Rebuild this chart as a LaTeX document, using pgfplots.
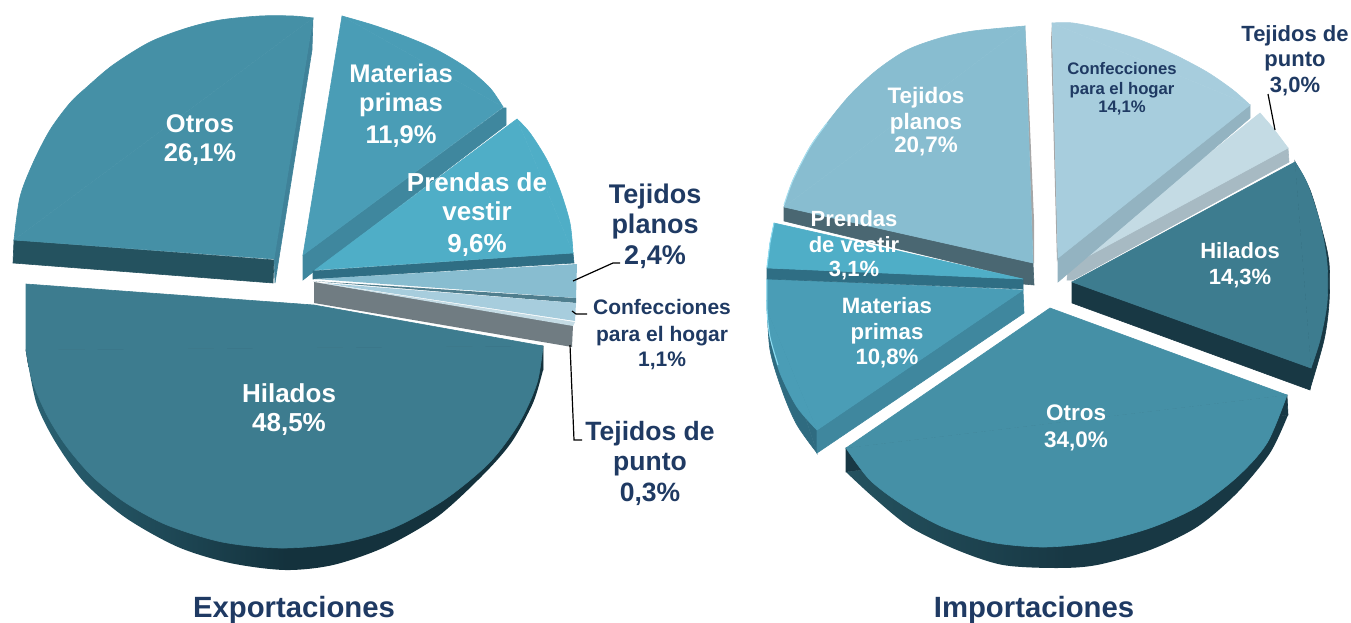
\documentclass[border=0pt]{standalone}
\usepackage{fontspec}
\setmainfont{Liberation Sans}
\usepackage{pgfplots}
\pgfplotsset{compat=1.18}

\definecolor{otros}{HTML}{4590A6}
\definecolor{otrosside}{HTML}{24525F}
\definecolor{otrosedge}{HTML}{3F8299}
\definecolor{otrosdark}{HTML}{183844}
\definecolor{hilados}{HTML}{3D7C8F}
\definecolor{hiladosside}{HTML}{14323D}
\definecolor{hiladosleft}{HTML}{2A6273}
\definecolor{materias}{HTML}{4A9DB6}
\definecolor{materiasside}{HTML}{3F879E}
\definecolor{materiasdark}{HTML}{2F6B80}
\definecolor{prendas}{HTML}{4FAEC7}
\definecolor{prendasside}{HTML}{2F6E84}
\definecolor{planos}{HTML}{88BDD0}
\definecolor{planosside}{HTML}{4A6772}
\definecolor{planosline}{HTML}{4F7E8E}
\definecolor{confec}{HTML}{A7CDDD}
\definecolor{confecside}{HTML}{93B3C1}
\definecolor{punto}{HTML}{C4DBE4}
\definecolor{puntoside}{HTML}{A7BAC3}
\definecolor{gris}{HTML}{707C82}
\definecolor{navy}{HTML}{1F3A63}
\definecolor{rim}{HTML}{8FDDF2}
\definecolor{rimpale}{HTML}{A8E0F0}

\tikzset{sec/.style={fill=#1,draw=#1,line width=0.6pt}}
\newcommand{\lab}[5]{\node[anchor=base,inner sep=0pt,text=#4,font=\fontsize{#3}{#3}\selectfont\bfseries] at (axis cs:#1,#2) {#5};}

\begin{document}
\begin{tikzpicture}
\path[use as bounding box] (0,0) rectangle (1351pt,623pt);
\begin{axis}[
    hide axis, scale only axis,
    width=1351pt, height=623pt,
    xmin=0, xmax=1351, ymin=0, ymax=623,
    y dir=reverse, clip=false,
    every axis plot/.append style={draw=none},
  ]
% ---- Exportaciones
% Otros
\addplot[sec=otrosside] coordinates {(14,240) (274,260) (273,283) (13,263)} --cycle;
\addplot[sec=otrosedge] coordinates {(313,18) (312,50) (275,283) (274,258)} --cycle;
\addplot[sec=otros] coordinates {(14,240) (313,18) (274,259)} --cycle;
\addplot[sec=otros,smooth] coordinates {(14,240) (20,197) (33,163) (50,130) (70,103) (87,87) (113,65) (150,42) (187,28) (220,20) (260,16) (293,16) (313,18)};
% Hilados
\addplot[sec=hiladosside] coordinates {(543,346) (543,370) (28,363) (26,350)} --cycle;
\addplot[left color=hiladosleft,right color=hiladosside,middle color=hiladosside,smooth] coordinates {(543,370) (533,403) (511,443) (481,477) (437,517) (385,547) (333,565) (285,570) (230,563) (178,547) (126,518) (85,483) (56,443) (37,405) (28,363)};
\addplot[sec=hilados] coordinates {(26,284) (26,350) (543,346) (314,305)} --cycle;
\addplot[sec=hilados,smooth] coordinates {(26,350) (33,383) (48,417) (67,447) (93,477) (126,503) (167,525) (222,542) (281,548) (341,543) (393,528) (444,500) (489,463) (519,423) (537,383) (543,346)};
% Materias primas
\addplot[sec=materiasside] coordinates {(503,108) (506,108) (506,125) (313,272) (303,280) (303,255)} --cycle;
\addplot[sec=materias] coordinates {(342,16) (503,107) (303,255)} --cycle;
\addplot[sec=materias,smooth] coordinates {(342,16) (373,25) (407,37) (437,50) (467,68) (490,88) (503,107)};
% Prendas de vestir
\addplot[sec=prendasside] coordinates {(573,253) (574,263) (313,279) (313,271)} --cycle;
\addplot[sec=prendas] coordinates {(315,270) (517,119) (573,253)} --cycle;
\addplot[sec=prendas,smooth] coordinates {(517,119) (530,133) (547,160) (560,190) (570,223) (573,253)};
% Tejidos de punto, grey side
\addplot[fill=gris] coordinates {(314,282) (573,325) (572,347) (314,303)} --cycle;
% Tejidos planos
\addplot[fill=planosline] coordinates {(313,281) (576,298) (576,303)} --cycle;
\addplot[fill=planos] coordinates {(315,279) (577,264) (576,298)} --cycle;
% Confecciones
\addplot[fill=confec] coordinates {(323,283) (576,303) (575,321)} --cycle;
\addplot[fill=punto] coordinates {(320,283) (575,322) (573,326)} --cycle;
% leaders
\addplot[draw=black,line width=1.2pt] coordinates {(573,281) (613,263) (620,263)};
\addplot[draw=black,line width=1.2pt] coordinates {(572,311) (576,314) (587,314)};
\addplot[draw=black,line width=1.2pt] coordinates {(570,345) (574,440) (582,440)};
% ---- Importaciones
% Tejidos planos
\addplot[sec=planosside] coordinates {(784,207) (1033,263) (1034,285) (1023,284) (1023,279) (784,221)} --cycle;
\addplot[fill=gray!70] coordinates {(1025,26) (1027,58) (1034,220) (1034,263) (1033,263)} --cycle;
\addplot[sec=planos] coordinates {(784,207) (1025,26) (1033,263)} --cycle;
\addplot[sec=planos,smooth] coordinates {(784,207) (793,180) (810,147) (827,123) (850,95) (877,70) (907,50) (940,38) (973,31) (1025,26)};
\addplot[draw=rimpale,smooth,line width=1pt] coordinates {(784,205) (793,180) (810,147) (827,123)};
% Materias primas
\addplot[sec=materiasdark,smooth] coordinates {(767,300) (770,350) (783,393) (797,425) (817,453)};
\addplot[sec=materiasdark] coordinates {(767,300) (817,453) (817,430)} --cycle;
\addplot[sec=materiasside] coordinates {(1023,290) (1024,313) (817,453) (817,430)} --cycle;
\addplot[sec=materias] coordinates {(767,279) (1023,290) (817,430) (767,310)} --cycle;
\addplot[sec=materias,smooth] coordinates {(767,310) (770,337) (780,373) (797,407) (817,430)};
\addplot[draw=rim,smooth,line width=1pt] coordinates {(767,279) (767,310) (770,337) (778,365)};
% Prendas de vestir
\addplot[sec=prendasside] coordinates {(767,268) (767,279) (1023,289) (1023,279)} --cycle;
\addplot[sec=prendas] coordinates {(774,223) (770,243) (767,268) (1023,279)} --cycle;
\addplot[draw=rim,line width=1pt] coordinates {(774,223) (770,243) (767,267)};
% Otros
\addplot[sec=otrosdark] coordinates {(1287,395) (1288,415) (846,472) (846,448)} --cycle;
\addplot[left color=otrosside,right color=otrosdark,middle color=otrosdark,smooth] coordinates {(1288,415) (1270,453) (1237,493) (1197,527) (1150,550) (1097,565) (1057,568) (1003,565) (957,550) (910,527) (873,497) (846,472)};
\addplot[sec=otros] coordinates {(1050,308) (1287,395) (846,448)} --cycle;
\addplot[sec=otros,smooth] coordinates {(846,448) (870,480) (903,505) (943,527) (990,542) (1043,547) (1097,542) (1150,528) (1197,507) (1237,477) (1267,443) (1287,395)};
% Hilados
\addplot[sec=otrosdark] coordinates {(1072,282) (1072,303) (1310,390) (1311,368)} --cycle;
\addplot[sec=otrosdark] coordinates {(1295,162) (1327,263) (1310,389) (1311,368)} --cycle;
\addplot[sec=otrosdark,smooth] coordinates {(1295,162) (1310,190) (1322,230) (1329,263) (1329,303) (1324,340) (1310,389)};
\addplot[sec=hilados] coordinates {(1072,282) (1295,162) (1311,368)} --cycle;
\addplot[sec=hilados,smooth] coordinates {(1295,162) (1307,183) (1320,223) (1327,263) (1327,303) (1320,340) (1311,368)};
% Tejidos de punto
\addplot[sec=puntoside] coordinates {(1288,148) (1289,162) (1073,280) (1067,280) (1068,267)} --cycle;
\addplot[sec=punto] coordinates {(1260,113) (1273,128) (1288,148) (1068,267)} --cycle;
% Confecciones
\addplot[fill=gray!70] coordinates {(1052,23) (1058,258) (1057,262) (1051,40)} --cycle;
\addplot[sec=confecside] coordinates {(1250,105) (1250,118) (1058,282) (1058,258)} --cycle;
\addplot[sec=confec] coordinates {(1052,23) (1250,105) (1058,258)} --cycle;
\addplot[sec=confec,smooth] coordinates {(1052,23) (1073,23) (1107,30) (1140,40) (1173,54) (1207,72) (1233,90) (1250,105)};
\addplot[draw=black,line width=1.2pt] coordinates {(1268,94) (1275,130)};
% ---- text
\lab{200}{132}{25.5}{white}{Otros}
\lab{200}{161}{25.5}{white}{26,1\%}
\lab{401}{83}{25.5}{white}{Materias}
\lab{401}{112}{25.5}{white}{primas}
\lab{401}{143}{25.5}{white}{11,9\%}
\lab{477}{191}{26}{white}{Prendas de}
\lab{477}{220}{26}{white}{vestir}
\lab{477}{252}{26}{white}{9,6\%}
\lab{289}{402}{26}{white}{Hilados}
\lab{289}{431}{26}{white}{48,5\%}
\lab{655}{203}{27}{navy}{Tejidos}
\lab{655}{233}{27}{navy}{planos}
\lab{655}{264}{27}{navy}{2,4\%}
\lab{662}{314}{21}{navy}{Confecciones}
\lab{662}{341}{21}{navy}{para el hogar}
\lab{662}{366}{21}{navy}{1,1\%}
\lab{650}{440}{26.5}{navy}{Tejidos de}
\lab{650}{470}{26.5}{navy}{punto}
\lab{650}{501}{26.5}{navy}{0,3\%}
\lab{294}{617}{29.3}{navy}{Exportaciones}
\lab{1034}{617}{29.3}{navy}{Importaciones}
\lab{926}{103}{22.4}{white}{Tejidos}
\lab{926}{129}{22.4}{white}{planos}
\lab{926}{153}{22.4}{white}{20,7\%}
\lab{854}{226}{22}{white}{Prendas}
\lab{854}{252}{22}{white}{de vestir}
\lab{854}{276}{22}{white}{3,1\%}
\lab{887}{313}{22.2}{white}{Materias}
\lab{887}{339}{22.2}{white}{primas}
\lab{887}{364}{22.2}{white}{10,8\%}
\lab{1240}{258}{22}{white}{Hilados}
\lab{1240}{284}{22}{white}{14,3\%}
\lab{1076}{420}{22.5}{white}{Otros}
\lab{1076}{447}{22.5}{white}{34,0\%}
\lab{1122}{75}{16.7}{navy}{Confecciones}
\lab{1122}{95}{16.7}{navy}{para el hogar}
\lab{1122}{113}{16.7}{navy}{14,1\%}
\lab{1295}{42}{22}{navy}{Tejidos de}
\lab{1295}{67}{22}{navy}{punto}
\lab{1295}{93}{22}{navy}{3,0\%}
\end{axis}
\end{tikzpicture}
\end{document}
